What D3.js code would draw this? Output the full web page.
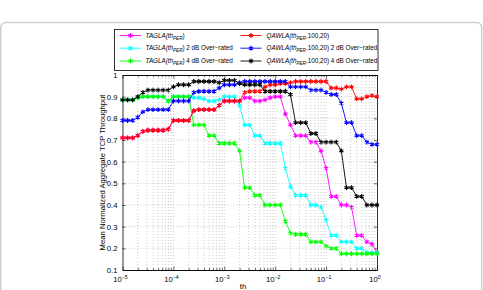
<!DOCTYPE html>
<html>
<head>
<meta charset="utf-8">
<script src="https://d3js.org/d3.v7.min.js"></script>
<style>
  body { margin: 0; background: #fff; }
  text { font-family: "Liberation Sans", Arial, Helvetica, sans-serif; fill: #000; }
</style>
</head>
<body>
<svg id="chart" width="483" height="290"></svg>
<script>
// th_PER sampling grid: 10 points per decade, 1e-5 .. 1
var thValues = d3.range(51).map(function(i) { return Math.pow(10, -5 + i / 10); });

var taglaVals = [0.71,0.71,0.71,0.72,0.74,0.745,0.745,0.745,0.745,0.75,
  0.79,0.79,0.79,0.79,0.835,0.84,0.84,0.84,0.84,0.86,
  0.88,0.88,0.88,0.88,0.895,0.895,0.88,0.88,0.885,0.895,
  0.9,0.9,0.82,0.77,0.72,0.72,0.72,0.69,0.69,0.65,
  0.57,0.44,0.44,0.40,0.40,0.39,0.26,0.26,0.23,0.22,0.18];
var tagla2Vals = [0.885,0.885,0.885,0.895,0.9,0.9,0.9,0.9,0.9,0.88,
  0.9,0.9,0.9,0.9,0.895,0.895,0.89,0.88,0.88,0.885,
  0.9,0.9,0.9,0.86,0.77,0.77,0.72,0.72,0.685,0.685,
  0.685,0.685,0.57,0.485,0.445,0.445,0.445,0.40,0.40,0.39,
  0.33,0.26,0.26,0.23,0.23,0.23,0.20,0.20,0.18,0.18,0.18];
var tagla4Vals = [0.885,0.885,0.885,0.895,0.9,0.9,0.9,0.9,0.9,0.88,
  0.9,0.9,0.9,0.9,0.77,0.77,0.77,0.72,0.72,0.685,
  0.685,0.685,0.685,0.65,0.48,0.48,0.445,0.445,0.40,0.40,
  0.40,0.40,0.325,0.27,0.265,0.265,0.265,0.23,0.23,0.23,
  0.21,0.20,0.20,0.175,0.175,0.175,0.175,0.175,0.175,0.175,0.175];
var qawlaVals = [0.71,0.71,0.71,0.72,0.74,0.745,0.745,0.745,0.745,0.75,
  0.79,0.79,0.79,0.79,0.835,0.84,0.84,0.84,0.84,0.86,
  0.88,0.88,0.88,0.88,0.92,0.925,0.925,0.925,0.945,0.955,
  0.955,0.96,0.96,0.965,0.97,0.97,0.97,0.97,0.97,0.97,
  0.97,0.94,0.94,0.935,0.945,0.945,0.89,0.89,0.90,0.905,0.90];
var qawla2Vals = [0.79,0.79,0.79,0.805,0.83,0.84,0.84,0.84,0.84,0.84,
  0.88,0.88,0.88,0.88,0.92,0.925,0.925,0.925,0.925,0.94,
  0.955,0.955,0.955,0.965,0.97,0.97,0.97,0.97,0.97,0.97,
  0.97,0.97,0.97,0.945,0.945,0.945,0.945,0.93,0.93,0.93,
  0.92,0.91,0.91,0.87,0.78,0.78,0.72,0.72,0.69,0.68,0.68];
var qawla4Vals = [0.885,0.885,0.885,0.90,0.92,0.93,0.93,0.93,0.93,0.93,
  0.945,0.955,0.955,0.955,0.97,0.97,0.97,0.97,0.97,0.965,
  0.975,0.975,0.975,0.96,0.955,0.955,0.955,0.955,0.925,0.925,
  0.925,0.925,0.925,0.91,0.78,0.78,0.78,0.73,0.73,0.69,
  0.69,0.69,0.69,0.65,0.48,0.48,0.44,0.44,0.40,0.40,0.40];

var seriesVals = [taglaVals, tagla2Vals, tagla4Vals, qawlaVals, qawla2Vals, qawla4Vals];
var seriesColors = ["#ff00ff", "#00ffff", "#00ff00", "#ff0000", "#0000ff", "#000000"];

var yTicks = [0.1,0.2,0.3,0.4,0.5,0.6,0.7,0.8,0.9,1];
var xDecades = [1e-5,1e-4,1e-3,1e-2,1e-1,1];
var xDecadeExp = ["\u22125","\u22124","\u22123","\u22122","\u22121","0"];

var svg = d3.select("#chart");

// outer frame
svg.append("rect")
  .attr("x", 0.75).attr("y", 22.5)
  .attr("width", 481).attr("height", 300)
  .attr("rx", 5)
  .attr("fill", "none")
  .attr("stroke", "#cfcfcf")
  .attr("stroke-width", 1.5);

var pLeft = 122.5, pRight = 377, pTop = 75, pBottom = 270;
var x = d3.scaleLog().domain([1e-5, 1]).range([pLeft, pRight]);
var y = d3.scaleLinear().domain([0.1, 1]).range([pBottom, pTop]);

var minorX = [];
for (var k = -5; k < 0; k++) {
  for (var m = 2; m <= 9; m++) minorX.push(m * Math.pow(10, k));
}

// grid
var grid = svg.append("g").attr("stroke", "#aaaaaa").attr("stroke-width", 0.6)
  .attr("stroke-dasharray", "1,2");
grid.selectAll(".gx").data(minorX.concat(xDecades.slice(1, -1))).enter().append("line")
  .attr("x1", function(d) { return x(d); }).attr("x2", function(d) { return x(d); })
  .attr("y1", pTop).attr("y2", pBottom);
grid.selectAll(".gy").data(yTicks.slice(1, -1)).enter().append("line")
  .attr("x1", pLeft).attr("x2", pRight)
  .attr("y1", function(d) { return y(d); }).attr("y2", function(d) { return y(d); });

// axes
var fmtY = function(d) { return String(+d.toFixed(1)); };
svg.append("g").attr("transform", "translate(" + pLeft + ",0)")
  .call(d3.axisLeft(y).tickValues(yTicks).tickSize(-3).tickSizeOuter(0).tickPadding(5).tickFormat(fmtY));
svg.append("g").attr("transform", "translate(" + pRight + ",0)")
  .call(d3.axisRight(y).tickValues(yTicks).tickSize(-3).tickSizeOuter(0).tickFormat(""));
svg.append("g").attr("transform", "translate(0," + pTop + ")")
  .call(d3.axisTop(x).tickValues(xDecades).tickSize(-3.5).tickSizeOuter(0).tickFormat(""));
svg.append("g").attr("transform", "translate(0," + pTop + ")")
  .call(d3.axisTop(x).tickValues(minorX).tickSize(-2).tickSizeOuter(0).tickFormat(""));
svg.append("g").attr("transform", "translate(0," + pBottom + ")")
  .call(d3.axisBottom(x).tickValues(minorX).tickSize(-2).tickSizeOuter(0).tickFormat(""));
svg.append("g").attr("transform", "translate(0," + pBottom + ")")
  .call(d3.axisBottom(x).tickValues(xDecades).tickSize(-3.5).tickSizeOuter(0).tickFormat(""));

svg.selectAll(".domain").attr("stroke", "#000").attr("stroke-width", 0.8);
svg.selectAll(".tick line").attr("stroke", "#000").attr("stroke-width", 0.6);
svg.selectAll(".tick text").attr("font-size", 7.7).attr("font-family", "Liberation Sans, Arial, sans-serif");

// x tick labels 10^k
xDecades.forEach(function(d, i) {
  var t = svg.append("text")
    .attr("x", x(d) - 2).attr("y", 282)
    .attr("font-size", 7.7)
    .attr("text-anchor", "middle");
  t.append("tspan").text("10");
  t.append("tspan").attr("font-size", 5.2).attr("dy", -3.5).text(xDecadeExp[i]);
});

// series
var line = d3.line()
  .x(function(d) { return x(d[0]); })
  .y(function(d) { return y(d[1]); });
var symType = d3.symbolAsterisk || d3.symbolCross;
var sym = d3.symbol().type(symType).size(16);

seriesVals.forEach(function(vals, s) {
  var pts = thValues.map(function(t, i) { return [t, vals[i]]; });
  var g = svg.append("g");
  g.append("path").datum(pts)
    .attr("d", line)
    .attr("fill", "none")
    .attr("stroke", seriesColors[s])
    .attr("stroke-width", 0.9);
  g.selectAll("path.mk").data(pts).enter().append("path")
    .attr("class", "mk")
    .attr("transform", function(d) { return "translate(" + x(d[0]) + "," + y(d[1]) + ")"; })
    .attr("d", sym)
    .attr("fill", seriesColors[s])
    .attr("stroke", seriesColors[s])
    .attr("stroke-width", 1.1);
});

// axis titles
svg.append("text")
  .attr("transform", "translate(104.5,172.5) rotate(-90)")
  .attr("text-anchor", "middle")
  .attr("font-size", 7.7)
  .text("Mean Normalized Aggregate TCP Throughput");
svg.append("text")
  .attr("x", 243).attr("y", 289)
  .attr("text-anchor", "middle")
  .attr("font-size", 7.7)
  .text("th");

// legend
var legend = svg.append("g");
legend.append("rect")
  .attr("x", 114.5).attr("y", 29.5).attr("width", 263.5).attr("height", 41)
  .attr("fill", "#fff").attr("stroke", "#000").attr("stroke-width", 0.8);

var legendRows = [35.5, 48.2, 61];
var legendCols = [{lx: 120, tx: 145.5, name: "TAGLA(th", tail: ")"},
                  {lx: 240.5, tx: 266.5, name: "QAWLA(th", tail: ",100,20)"}];
var legendSuffix = ["", " 2 dB Over\u2212rated", " 4 dB Over\u2212rated"];

seriesVals.forEach(function(vals, s) {
  var col = legendCols[Math.floor(s / 3)];
  var ry = legendRows[s % 3];
  legend.append("line")
    .attr("x1", col.lx).attr("x2", col.lx + 21)
    .attr("y1", ry).attr("y2", ry)
    .attr("stroke", seriesColors[s]).attr("stroke-width", 0.9);
  legend.append("path")
    .attr("transform", "translate(" + (col.lx + 10.5) + "," + ry + ")")
    .attr("d", sym)
    .attr("fill", seriesColors[s]).attr("stroke", seriesColors[s]).attr("stroke-width", 1.1);
  var t = legend.append("text")
    .attr("x", col.tx).attr("y", ry + 2.2)
    .attr("font-size", 6.3);
  t.append("tspan").attr("font-style", "italic").text(col.name);
  t.append("tspan").attr("font-style", "italic").attr("font-size", 4.6).attr("dy", 1.8).text("PER");
  t.append("tspan").attr("dy", -1.8).text(col.tail + legendSuffix[s % 3]);
});
</script>
</body>
</html>
